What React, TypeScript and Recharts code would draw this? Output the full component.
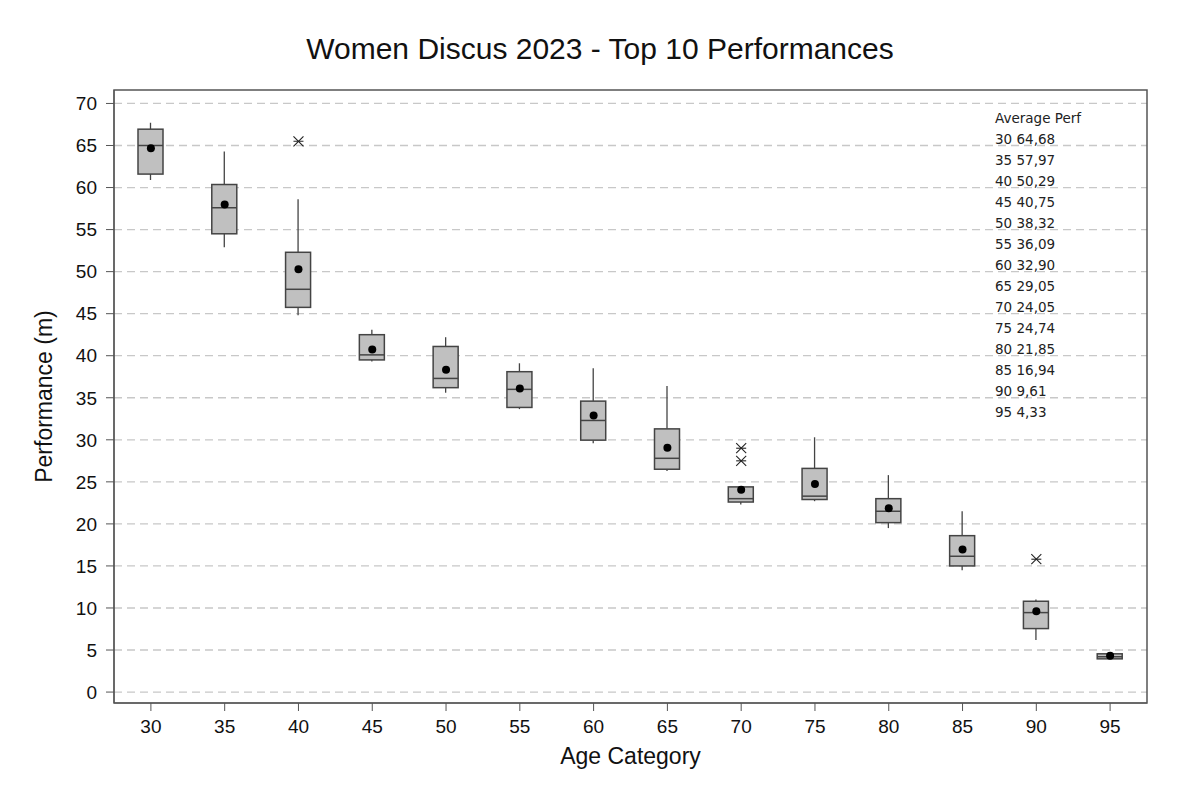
import {
  Bar,
  CartesianGrid,
  ComposedChart,
  ReferenceArea,
  Scatter,
  XAxis,
  YAxis,
} from "recharts";

const categories = ["30", "35", "40", "45", "50", "55", "60", "65", "70", "75", "80", "85", "90", "95"];
const whiskerLow = [60.9, 52.9, 44.8, 39.3, 35.6, 33.65, 29.6, 26.3, 22.3, 22.7, 19.5, 14.5, 6.2, 3.9];
const q1 = [61.6, 54.5, 45.75, 39.5, 36.2, 33.85, 29.96, 26.5, 22.6, 22.9, 20.15, 15.0, 7.55, 3.95];
const median = [65.0, 57.6, 47.9, 40.1, 37.3, 36.0, 32.3, 27.8, 23.0, 23.3, 21.5, 16.15, 9.45, 4.2];
const q3 = [66.94, 60.36, 52.3, 42.5, 41.1, 38.1, 34.6, 31.3, 24.4, 26.6, 23.0, 18.6, 10.8, 4.55];
const whiskerHigh = [67.7, 64.3, 58.6, 43.1, 42.2, 39.1, 38.5, 36.4, 24.4, 30.3, 25.8, 21.5, 11.0, 4.6];
const means = [64.68, 57.97, 50.29, 40.75, 38.32, 36.09, 32.9, 29.05, 24.05, 24.74, 21.85, 16.94, 9.61, 4.33];
const outlierA = [null, null, 65.5, null, null, null, null, null, 29.0, null, null, null, 15.8, null];
const outlierB = [null, null, null, null, null, null, null, null, 27.5, null, null, null, null, null];
const meanLabels = ["64,68", "57,97", "50,29", "40,75", "38,32", "36,09", "32,90", "29,05", "24,05", "24,74", "21,85", "16,94", "9,61", "4,33"];

const yTicks = [0, 5, 10, 15, 20, 25, 30, 35, 40, 45, 50, 55, 60, 65, 70];
const gridValues = [0, 2.5, 5, 7.5, 10, 12.5, 15, 17.5, 20, 22.5, 25, 27.5, 30, 32.5, 35, 37.5, 40, 42.5, 45, 47.5, 50, 52.5, 55, 57.5, 60, 62.5, 65, 67.5, 70];

const data = categories.map((age, i) => ({
  age,
  low: whiskerLow[i],
  q1: q1[i],
  median: median[i],
  q3: q3[i],
  high: whiskerHigh[i],
  mean: means[i],
  outA: outlierA[i],
  outB: outlierB[i],
}));

const FONT = "'Liberation Sans', Arial, sans-serif";
const INK = "#444";

function BoxShape(props: any) {
  const { x, y, width, height, payload } = props;
  const top = Math.min(y, y + height);
  const h = Math.abs(height);
  const span = payload.high - payload.low || 1;
  const px = (v: number) => top + ((payload.high - v) / span) * h;
  const cx = x + width / 2;
  const yQ3 = px(payload.q3);
  const yQ1 = px(payload.q1);
  const yMed = px(payload.median);
  return (
    <g>
      <line x1={cx} x2={cx} y1={top} y2={yQ3} stroke={INK} strokeWidth={1.3} />
      <line x1={cx} x2={cx} y1={yQ1} y2={top + h} stroke={INK} strokeWidth={1.3} />
      <rect x={x} y={yQ3} width={width} height={Math.max(yQ1 - yQ3, 1)} fill="#c0c0c0" stroke={INK} strokeWidth={1.5} />
      <line x1={x} x2={x + width} y1={yMed} y2={yMed} stroke={INK} strokeWidth={1.5} />
    </g>
  );
}

function MeanDot(props: any) {
  const { cx, cy } = props;
  return <circle cx={cx} cy={cy} r={4} fill="#000" />;
}

function makeOutlier(key: "outA" | "outB") {
  return (props: any) => {
    const { cx, cy, payload } = props;
    if (payload[key] == null) return <g />;
    const r = 5;
    return (
      <g stroke="#222" strokeWidth={1.1}>
        <line x1={cx - r} x2={cx + r} y1={cy - r} y2={cy + r} />
        <line x1={cx - r} x2={cx + r} y1={cy + r} y2={cy - r} />
        <line x1={cx - r} x2={cx + r} y1={cy} y2={cy} />
      </g>
    );
  };
}

export default function App() {
  return (
    <div style={{ position: "relative", width: 1184, height: 778, fontFamily: FONT }}>
      <div
        style={{
          position: "absolute",
          top: 24,
          left: 0,
          width: 1184,
          textAlign: "center",
          fontSize: 30,
          color: "#111",
        }}
      >
        Women Discus 2023 - Top 10 Performances
      </div>
      <ComposedChart
        width={1184}
        height={778}
        data={data}
        margin={{ top: 82, right: 45, bottom: 13, left: 0 }}
      >
        <CartesianGrid
          vertical={false}
          horizontalValues={gridValues}
          stroke="#c8c8c8"
          strokeDasharray="8 5"
          strokeWidth={1.3}
        />
        <XAxis
          dataKey="age"
          type="category"
          height={70}
          tickSize={8}
          tickMargin={9}
          stroke="#555"
          tick={{ fill: "#111", fontSize: 19, fontFamily: FONT }}
          label={{
            content: (p: any) => (
              <text
                x={p.viewBox.x + p.viewBox.width / 2}
                y={p.viewBox.y + 61}
                textAnchor="middle"
                fontSize={23}
                fontFamily={FONT}
                fill="#111"
              >
                Age Category
              </text>
            ),
          }}
        />
        <YAxis
          type="number"
          domain={[-1.3, 71.6]}
          ticks={yTicks}
          width={106}
          tickSize={8}
          tickMargin={9}
          stroke="#555"
          allowDataOverflow
          tick={{ fill: "#111", fontSize: 19, fontFamily: FONT }}
          label={{
            content: (p: any) => {
              const lx = p.viewBox.x + 36;
              const ly = p.viewBox.y + p.viewBox.height / 2;
              return (
                <text
                  x={lx}
                  y={ly}
                  transform={`rotate(-90, ${lx}, ${ly})`}
                  textAnchor="middle"
                  dominantBaseline="central"
                  fontSize={23}
                  fontFamily={FONT}
                  fill="#111"
                >
                  Performance (m)
                </text>
              );
            },
          }}
        />
        <ReferenceArea y1={-1.3} y2={71.6} fill="none" stroke="#555" strokeWidth={1.5} ifOverflow="visible" />
        <Bar
          dataKey={(d: any) => [d.low, d.high]}
          barSize={25}
          shape={BoxShape}
          isAnimationActive={false}
        />
        <Scatter dataKey="mean" shape={MeanDot} isAnimationActive={false} />
        <Scatter dataKey="outA" shape={makeOutlier("outA")} isAnimationActive={false} />
        <Scatter dataKey="outB" shape={makeOutlier("outB")} isAnimationActive={false} />
      </ComposedChart>
      <div
        style={{
          position: "absolute",
          top: 100,
          left: 987,
          fontFamily: "'DejaVu Sans', Tahoma, sans-serif",
          fontSize: 13.5,
          lineHeight: "21px",
          color: "#222",
          whiteSpace: "pre",
        }}
      >
        <div>Average Perf</div>
        {categories.map((c, i) => (
          <div key={c}>
            {c} {meanLabels[i]}
          </div>
        ))}
      </div>
    </div>
  );
}
